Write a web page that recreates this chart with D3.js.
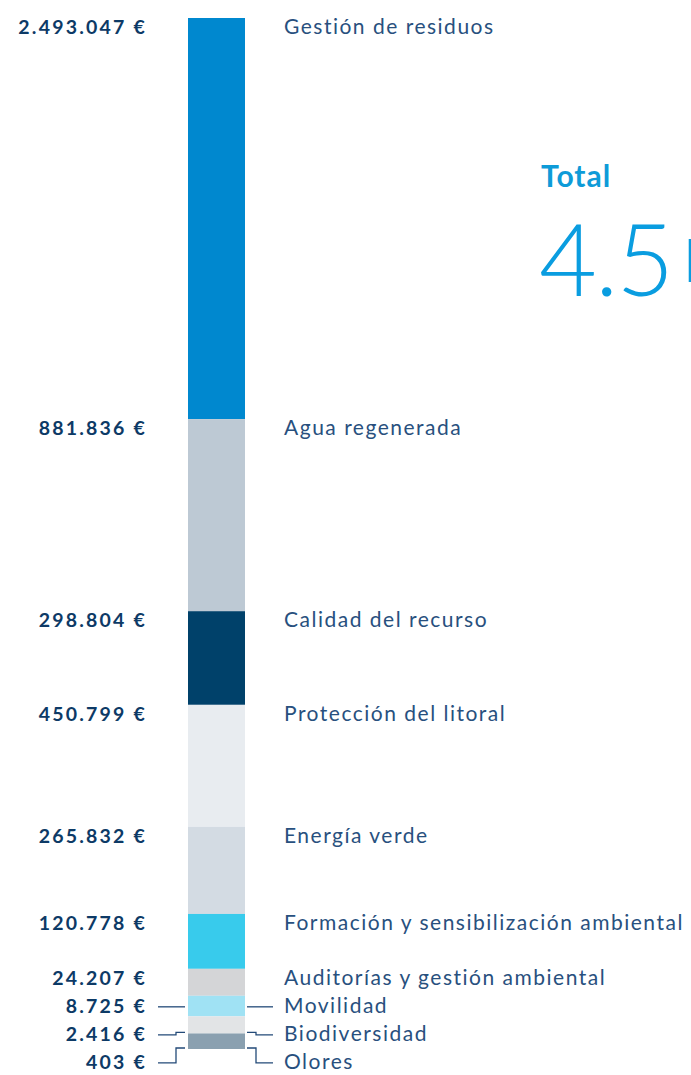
<!DOCTYPE html>
<html>
<head>
<meta charset="utf-8">
<script src="https://cdn.jsdelivr.net/npm/d3@7"></script>
<style>
  html, body { margin: 0; padding: 0; background: #fff; }
  svg { display: block; font-family: Lato, 'Open Sans', sans-serif; }
</style>
</head>
<body>
<svg id="chart" width="691" height="1075"></svg>
<script>
const categories = [
  'Gestión de residuos',
  'Agua regenerada',
  'Calidad del recurso',
  'Protección del litoral',
  'Energía verde',
  'Formación y sensibilización ambiental',
  'Auditorías y gestión ambiental',
  'Movilidad',
  'Biodiversidad',
  'Olores'
]
const values = [2493047, 881836, 298804, 450799, 265832, 120778, 24207, 8725, 2416, 403]
const colors = ['#0088cf', '#bdc9d4', '#00416a', '#e8ecf0', '#d3dbe3', '#38cbec', '#d4d5d7', '#a0e2f4', '#e2e4e6', '#8aa0b0']

const svg = d3.select('#chart')

const barX = 188
const barW = 57
const barTop = 18
const barBottom = 1049
const minH = 15 // every slice gets a little room so the small ones stay visible

// the infographic isn't linear, a 0.75 power scale + min height gets close
const maxVal = d3.max(values)
const unit = d3.scalePow().exponent(0.75).domain([0, maxVal]).range([0, 1])
const sumUnits = d3.sum(values, (v) => unit(v))
const hScale = d3.scalePow().exponent(0.75).domain([0, maxVal])
  .range([0, (barBottom - barTop - minH * values.length) / sumUnits])

let acc = barTop
const slices = values.map((v, i) => {
  const h = hScale(v) + minH
  const s = { name: categories[i], value: v, color: colors[i], y0: acc, y1: acc + h }
  acc += h
  return s
})

// label positions: near the slice top, pushed down if too close to the previous one
let prev = -Infinity
slices.forEach((s) => {
  s.ly = Math.max(s.y0 + 16, prev + 28)
  s.small = s.y1 - s.y0 < 24
  prev = s.ly
})

const locale = d3.formatLocale({ decimal: ',', thousands: '.', grouping: [3], currency: ['', ' €'] })
const fmt = locale.format('$,.0f')

svg.append('g')
  .selectAll('rect')
  .data(slices)
  .join('rect')
  .attr('x', barX)
  .attr('width', barW)
  .attr('y', (d) => d.y0)
  .attr('height', (d) => d.y1 - d.y0)
  .attr('fill', (d) => d.color)

svg.append('g')
  .selectAll('text')
  .data(slices)
  .join('text')
  .attr('x', 147)
  .attr('y', (d) => d.ly)
  .attr('text-anchor', 'end')
  .attr('font-size', 19.5)
  .attr('font-weight', 700)
  .attr('letter-spacing', 2.2)
  .attr('fill', '#0d3a66')
  .text((d) => fmt(d.value))

svg.append('g')
  .selectAll('text')
  .data(slices)
  .join('text')
  .attr('x', 284)
  .attr('y', (d) => d.ly)
  .attr('font-size', 21)
  .attr('letter-spacing', 1.5)
  .attr('fill', '#28507e')
  .text((d) => d.name)

// leader lines for the thin slices
const small = slices.filter((d) => d.small)
const target = (d) => Math.max(d.y0 + 1, Math.min(d.y1 - 1, d.ly - 6))

svg.append('g')
  .attr('fill', 'none')
  .attr('stroke', '#234a78')
  .attr('stroke-width', 1.3)
  .selectAll('path')
  .data(small)
  .join('path')
  .attr('d', (d) => `M158,${d.ly - 6}H176V${target(d)}H185`)

svg.append('g')
  .attr('fill', 'none')
  .attr('stroke', '#234a78')
  .attr('stroke-width', 1.3)
  .selectAll('path')
  .data(small)
  .join('path')
  .attr('d', (d) => `M247,${target(d)}H256V${d.ly - 6}H273`)

// total
const total = d3.sum(values)

svg.append('text')
  .attr('x', 541)
  .attr('y', 187)
  .attr('font-size', 30)
  .attr('font-weight', 700)
  .attr('letter-spacing', 1)
  .attr('fill', '#0e9bd8')
  .text('Total')

const big = svg.append('text')
  .attr('x', 539)
  .attr('y', 296)
  .attr('font-size', 100)
  .attr('font-weight', 300)
  .attr('letter-spacing', -2)
  .attr('fill', '#0a9de0')
big.append('tspan').text(d3.format('.1f')(total / 1e6))
big.append('tspan')
  .attr('dx', 10)
  .attr('dy', -14)
  .attr('font-size', 62)
  .text('M€')
</script>
</body>
</html>
